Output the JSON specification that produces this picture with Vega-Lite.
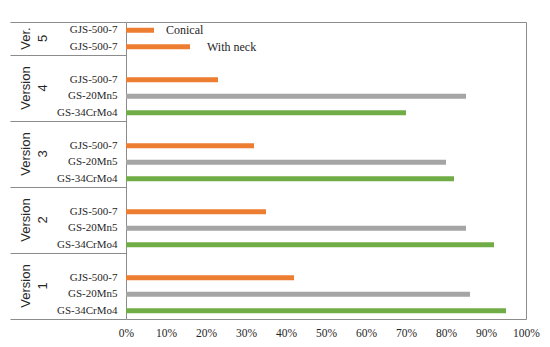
{
  "$schema": "https://vega.github.io/schema/vega-lite/v6.json",
  "autosize": "none",
  "width": 400,
  "height": 297,
  "padding": {"left": 126, "top": 22, "right": 24, "bottom": 28},
  "background": "white",
  "config": {
    "view": {"stroke": "#8c8c8c", "strokeWidth": 1},
    "axisX": {"labelOverlap": false, "labelFlush": false, "labelFont": "Liberation Serif", "labelFontSize": 11, "labelColor": "#262626", "labelPadding": 8, "ticks": false, "domain": false, "grid": false}
  },
  "datasets": {
    "bars": [
      {"key": "GJS-500-7#5a", "material": "GJS-500-7", "value": 0.07, "note": "Conical"},
      {"key": "GJS-500-7#5b", "material": "GJS-500-7", "value": 0.16, "note": "With neck"},
      {"key": "GJS-500-7#4", "material": "GJS-500-7", "value": 0.23},
      {"key": "GS-20Mn5#4", "material": "GS-20Mn5", "value": 0.85},
      {"key": "GS-34CrMo4#4", "material": "GS-34CrMo4", "value": 0.70},
      {"key": "GJS-500-7#3", "material": "GJS-500-7", "value": 0.32},
      {"key": "GS-20Mn5#3", "material": "GS-20Mn5", "value": 0.80},
      {"key": "GS-34CrMo4#3", "material": "GS-34CrMo4", "value": 0.82},
      {"key": "GJS-500-7#2", "material": "GJS-500-7", "value": 0.35},
      {"key": "GS-20Mn5#2", "material": "GS-20Mn5", "value": 0.85},
      {"key": "GS-34CrMo4#2", "material": "GS-34CrMo4", "value": 0.92},
      {"key": "GJS-500-7#1", "material": "GJS-500-7", "value": 0.42},
      {"key": "GS-20Mn5#1", "material": "GS-20Mn5", "value": 0.86},
      {"key": "GS-34CrMo4#1", "material": "GS-34CrMo4", "value": 0.95}
    ],
    "groups": [
      {"key": "GJS-500-7#5a", "label": ["Ver.", "5"]},
      {"key": "GJS-500-7#4", "label": ["Version", "4"]},
      {"key": "GJS-500-7#3", "label": ["Version", "3"]},
      {"key": "GJS-500-7#2", "label": ["Version", "2"]},
      {"key": "GJS-500-7#1", "label": ["Version", "1"]}
    ]
  },
  "resolve": {"axis": {"y": "independent", "x": "independent"}, "scale": {"y": "shared", "x": "shared"}},
  "layer": [
    {
      "data": {"name": "bars"},
      "mark": {"type": "bar", "size": 5},
      "encoding": {
        "y": {
          "field": "key", "type": "nominal",
          "scale": {
            "type": "band", "paddingInner": 0, "paddingOuter": 0,
            "domain": ["GJS-500-7#5a", "GJS-500-7#5b",
                       "#4", "GJS-500-7#4", "GS-20Mn5#4", "GS-34CrMo4#4",
                       "#3", "GJS-500-7#3", "GS-20Mn5#3", "GS-34CrMo4#3",
                       "#2", "GJS-500-7#2", "GS-20Mn5#2", "GS-34CrMo4#2",
                       "#1", "GJS-500-7#1", "GS-20Mn5#1", "GS-34CrMo4#1"]
          },
          "axis": {
            "orient": "left",
            "title": null, "ticks": false, "domain": false, "grid": false,
            "labelExpr": "split(datum.value, '#')[0]",
            "labelFont": "Liberation Serif", "labelFontSize": 11,
            "labelColor": "#262626", "labelPadding": 9
          }
        },
        "x": {
          "field": "value", "type": "quantitative",
          "scale": {"domain": [0, 1], "nice": false},
          "axis": {
            "orient": "bottom",
            "title": null, "format": ".0%",
            "values": [0, 0.1, 0.2, 0.3, 0.4, 0.5, 0.6, 0.7, 0.8, 0.9, 1],
            "labelOverlap": false, "labelFlush": false,
            "labelFont": "Liberation Serif", "labelFontSize": 11.5,
            "labelColor": "#262626", "labelPadding": 8,
            "ticks": false, "domain": false, "grid": false
          }
        },
        "color": {
          "field": "material", "type": "nominal",
          "scale": {"domain": ["GJS-500-7", "GS-20Mn5", "GS-34CrMo4"], "range": ["#ED7D31", "#A5A5A5", "#70AD47"]},
          "legend": null
        }
      }
    },
    {
      "data": {"name": "bars"},
      "transform": [{"filter": "datum.note == 'Conical'"}],
      "mark": {"type": "text", "align": "left", "baseline": "middle", "dx": 12, "font": "Liberation Serif", "fontSize": 12, "color": "#262626"},
      "encoding": {
        "y": {"field": "key", "type": "nominal", "axis": null},
        "x": {"field": "value", "type": "quantitative", "axis": null},
        "text": {"field": "note"}
      }
    },
    {
      "data": {"name": "bars"},
      "transform": [{"filter": "datum.note == 'With neck'"}],
      "mark": {"type": "text", "align": "left", "baseline": "middle", "dx": 17, "font": "Liberation Serif", "fontSize": 12, "color": "#262626"},
      "encoding": {
        "y": {
          "field": "key", "type": "nominal",
          "axis": {
            "orient": "left",
            "title": null, "labels": false, "domain": false, "grid": false,
            "ticks": true, "tickSize": 116, "tickColor": "#8c8c8c", "tickWidth": 1,
            "bandPosition": 1, "values": ["GS-34CrMo4#1"]
          }
        },
        "x": {"field": "value", "type": "quantitative", "axis": null},
        "text": {"field": "note"}
      }
    },
    {
      "data": {"name": "groups"},
      "mark": {"type": "text", "align": "center", "baseline": "middle", "angle": 270, "dy": -100, "lineHeight": 17, "font": "Liberation Sans", "fontSize": 13, "color": "#262626"},
      "encoding": {
        "y": {
          "field": "key", "type": "nominal", "bandPosition": 1,
          "axis": {
            "orient": "left",
            "title": null, "labels": false, "domain": false, "grid": false,
            "ticks": true, "tickSize": 116, "tickColor": "#8c8c8c", "tickWidth": 1,
            "bandPosition": 0, "values": ["GJS-500-7#5a", "#4", "#3", "#2", "#1"]
          }
        },
        "x": {"datum": 0, "type": "quantitative", "axis": null},
        "text": {"field": "label"}
      }
    }
  ]
}
